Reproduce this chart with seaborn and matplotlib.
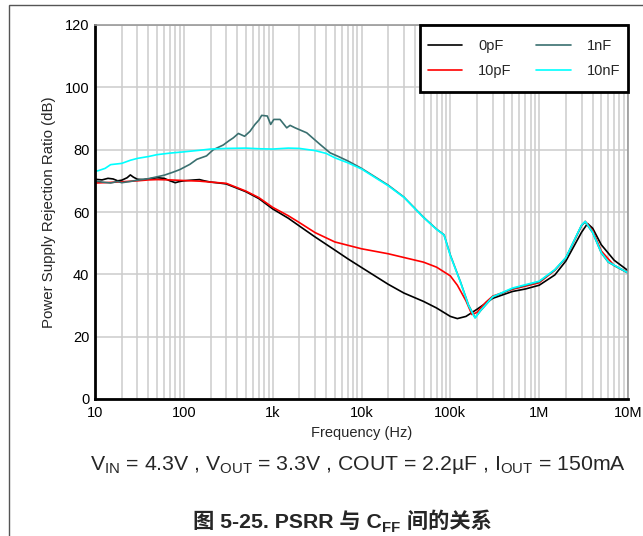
import numpy as np
import pandas as pd
import seaborn as sns
import matplotlib.pyplot as plt
from matplotlib.patches import Rectangle
from matplotlib.lines import Line2D

# 0pF
f_0pf = [10, 12, 14, 16, 18, 20, 23, 25, 27, 30, 35, 40, 50, 60, 70, 80, 90, 100, 120, 150,
         170, 200, 250, 300, 400, 500, 700, 1e3, 1.5e3, 2e3, 3e3, 5e3, 7e3, 1e4, 2e4, 3e4,
         5e4, 7e4, 1e5, 1.2e5, 1.5e5, 2e5, 3e5, 5e5, 7e5, 1e6, 1.5e6, 2e6, 3e6, 3.5e6, 4e6,
         5e6, 7e6, 1e7]
db_0pf = [70.5, 70.3, 70.8, 70.6, 70.0, 70.2, 71.0, 71.9, 71.2, 70.5, 70.4, 70.6, 71.0, 70.8,
          70.0, 69.4, 69.8, 70.0, 70.2, 70.4, 70.0, 69.6, 69.3, 69.0, 67.6, 66.5, 64.3, 61.0,
          58.0, 55.5, 52.0, 47.8, 45.0, 42.2, 36.8, 34.0, 31.3, 29.2, 26.5, 25.8, 26.5, 28.8,
          32.3, 34.5, 35.3, 36.5, 39.8, 44.3, 53.5, 56.3, 54.8, 49.5, 44.5, 41.2]

# 10pF
f_10pf = [10, 15, 20, 30, 40, 50, 70, 100, 150, 200, 300, 400, 500, 700, 1e3, 1.5e3, 2e3,
          3e3, 5e3, 1e4, 2e4, 5e4, 7e4, 1e5, 1.2e5, 1.5e5, 1.75e5, 2e5, 2.5e5, 3e5, 5e5, 1e6,
          1.5e6, 2e6, 3e6, 3.3e6, 4e6, 5e6, 7e6, 1e7]
db_10pf = [69.3, 69.5, 69.7, 70.0, 70.3, 70.4, 70.3, 70.1, 69.9, 69.6, 69.2, 67.8, 66.7, 64.6,
           61.5, 58.8, 56.6, 53.4, 50.4, 48.2, 46.6, 43.9, 42.3, 39.5, 36.5, 31.5, 27.1, 27.8,
           31.0, 33.0, 35.2, 37.3, 41.3, 45.3, 55.6, 57.0, 54.0, 47.5, 42.8, 40.6]

# 1nF
f_1nf = [10, 12, 15, 18, 20, 25, 30, 40, 50, 60, 76, 90, 117, 140, 180, 215, 278, 320, 361,
         411, 483, 556, 632, 700, 752, 870, 950, 1030, 1210, 1440, 1570, 1790, 2420, 3410,
         4420, 5500, 7e3, 1e4, 2e4, 3e4, 5e4, 7e4, 8.5e4, 1e5, 1.3e5, 1.6e5, 1.9e5, 2.2e5,
         3e5, 5e5, 1e6, 1.5e6, 2e6, 3e6, 3.3e6, 4e6, 5e6, 6e6, 8e6, 1e7]
db_1nf = [70.0, 69.6, 69.3, 69.8, 69.4, 69.8, 70.2, 70.7, 71.3, 71.8, 72.8, 73.6, 75.3, 76.9,
          78.0, 80.0, 81.5, 82.8, 83.8, 85.2, 84.3, 85.9, 88.1, 89.5, 91.0, 90.8, 88.1, 89.7,
          89.7, 87.0, 87.8, 87.0, 85.4, 81.7, 79.0, 77.8, 76.4, 74.0, 68.6, 64.8, 58.3, 54.5,
          52.7, 46.2, 37.6, 30.2, 26.1, 28.4, 32.7, 35.4, 37.6, 41.4, 45.3, 55.7, 56.8, 53.4,
          46.9, 43.9, 41.9, 40.4]

# 10nF
f_10nf = [10, 11, 13, 15, 20, 25, 30, 40, 50, 70, 100, 150, 200, 300, 500, 700, 1e3, 1.5e3,
          2e3, 3e3, 4e3, 5e3, 7e3, 1e4, 2e4, 3e4, 5e4, 7e4, 8.5e4, 1e5, 1.3e5, 1.6e5, 1.9e5,
          2.2e5, 3e5, 5e5, 1e6, 1.5e6, 2e6, 3e6, 3.3e6, 4e6, 5e6, 6e6, 8e6, 1e7]
db_10nf = [73.0, 73.3, 74.0, 75.2, 75.6, 76.6, 77.2, 77.8, 78.4, 78.9, 79.3, 79.8, 80.2, 80.4,
           80.5, 80.3, 80.2, 80.5, 80.4, 79.7, 78.8, 77.4, 75.8, 73.8, 68.4, 64.7, 58.2, 54.4,
           52.6, 46.0, 37.5, 30.0, 26.0, 28.5, 32.8, 35.6, 37.8, 41.5, 45.4, 55.8, 57.0, 53.5,
           47.0, 44.0, 42.0, 40.5]

series = ["0pF", "10pF", "1nF", "10nF"]
colors = {"0pF": "#000000", "10pF": "#ff0000", "1nF": "#3a7070", "10nF": "#00ffff"}
x_ticks = [10, 100, 1e3, 1e4, 1e5, 1e6, 1e7]
x_labels = ["10", "100", "1k", "10k", "100k", "1M", "10M"]
y_ticks = [0, 20, 40, 60, 80, 100, 120]

frames = []
for name, f, d in [("0pF", f_0pf, db_0pf), ("10pF", f_10pf, db_10pf),
                   ("1nF", f_1nf, db_1nf), ("10nF", f_10nf, db_10nf)]:
    frames.append(pd.DataFrame({"freq": f, "psrr": d, "cff": name}))
df = pd.concat(frames, ignore_index=True)

sns.set_style("white")
plt.rcParams["font.family"] = ["Liberation Sans", "Noto Sans CJK SC", "DejaVu Sans"]
plt.rcParams["mathtext.fontset"] = "custom"
plt.rcParams["mathtext.rm"] = "Liberation Sans"
plt.rcParams["mathtext.it"] = "Liberation Sans"

fig = plt.figure(figsize=(6.43, 5.36), dpi=100)
ax = fig.add_axes([95 / 643, 1 - 399 / 536, 533 / 643, 374 / 536])

sns.lineplot(data=df, x="freq", y="psrr", hue="cff", hue_order=series, palette=colors,
             estimator=None, sort=False, linewidth=1.2, legend=False, ax=ax)

ax.set_xscale("log")
ax.set_xlim(10, 1e7)
ax.set_ylim(0, 120)
ax.set_xticks(x_ticks)
ax.set_xticklabels(x_labels)
ax.set_yticks(y_ticks)
ax.grid(True, which="major", color="#cccccc", linewidth=1.1)
ax.grid(True, which="minor", axis="x", color="#cccccc", linewidth=1.1)
ax.tick_params(which="both", length=0, labelsize=10.5, colors="#000000")
ax.tick_params(axis="y", pad=4)
ax.tick_params(axis="x", pad=5)
ax.set_xlabel("Frequency (Hz)", fontsize=10.5, labelpad=4)
ax.set_ylabel("Power Supply Rejection Ratio (dB)", fontsize=10.8, labelpad=6)
for s in ["left", "bottom"]:
    ax.spines[s].set_color("black")
    ax.spines[s].set_linewidth(2)
for s in ["top", "right"]:
    ax.spines[s].set_color("#999999")
    ax.spines[s].set_linewidth(1.2)

# legend box drawn separately so its padding matches the original
box = Rectangle((325 / 533, 307 / 374), 208 / 533, 67 / 374, transform=ax.transAxes,
                facecolor="white", edgecolor="black", linewidth=2, zorder=4.5, clip_on=False)
ax.add_patch(box)
handles = [Line2D([], [], color=colors[s], linewidth=1.2) for s in series]
leg = ax.legend(handles, series, ncol=2, loc="center",
                bbox_to_anchor=((325 + 104) / 533, (307 + 33.5) / 374),
                fontsize=10.5, frameon=False, handlelength=2.35, handletextpad=1.1,
                columnspacing=1.7, labelspacing=0.75, borderpad=0.0)
leg.set_zorder(5)

fig.add_artist(Rectangle((9 / 643, -0.1), 1.0, 1.1 - 5 / 536, transform=fig.transFigure,
                         fill=False, edgecolor="#555555", linewidth=1))

fig.text(90 / 643, 1 - 465 / 536,
         r"$\mathrm{V_{IN}}$ = 4.3V , $\mathrm{V_{OUT}}$ = 3.3V , COUT = 2.2µF , "
         r"$\mathrm{I_{OUT}}$ = 150mA",
         fontsize=15.3, va="center", ha="left")

base_y = 1 - 528 / 536
t1 = fig.text(193 / 643, base_y, "图 5-25. PSRR 与 C", fontsize=15.3,
              fontweight="bold", va="baseline", ha="left")
t2 = fig.text(0, 0, "FF", fontsize=10.7, fontweight="bold", va="baseline", ha="left")
fig.canvas.draw()
r = fig.canvas.get_renderer()
bb = t1.get_window_extent(r)
t2.set_position((bb.x1 / fig.bbox.width + 0.5 / 643, base_y - 4 / 536))
bb2 = t2.get_window_extent(r)
fig.text(bb2.x1 / fig.bbox.width, base_y, " 间的关系", fontsize=15.3,
         fontweight="bold", va="baseline", ha="left")

fig.savefig("out.png", dpi=100)
